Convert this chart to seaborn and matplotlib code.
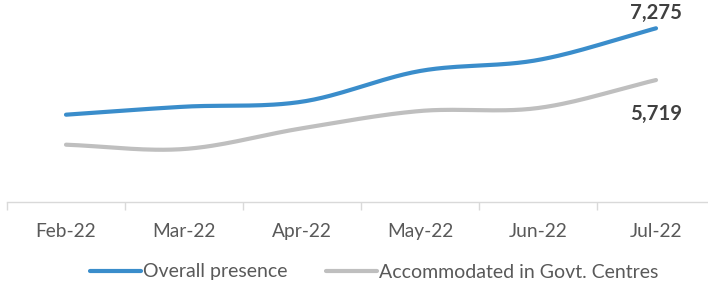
import numpy as np
import pandas as pd
import matplotlib
matplotlib.use("Agg")
import matplotlib.pyplot as plt
import seaborn as sns
from matplotlib.lines import Line2D

months = ["Feb-22", "Mar-22", "Apr-22", "May-22", "Jun-22", "Jul-22"]
overall = [4677, 4917, 5068, 5991, 6322, 7275]
accommodated = [3775, 3645, 4268, 4788, 4878, 5719]
series_names = ["Overall presence", "Accommodated in Govt. Centres"]
colors = ["#3A8DCB", "#BFBFBF"]

sns.set_theme(style="white")
plt.rcParams["font.family"] = ["Lato", "DejaVu Sans"]


def smooth(xs, ys, n=30):
    # Catmull-Rom style smoothing through the data points
    xs = np.asarray(xs, float)
    ys = np.asarray(ys, float)
    px = np.concatenate([[2 * xs[0] - xs[1]], xs, [2 * xs[-1] - xs[-2]]])
    py = np.concatenate([[2 * ys[0] - ys[1]], ys, [2 * ys[-1] - ys[-2]]])
    outx, outy = [], []
    t = np.linspace(0, 1, n)
    for i in range(1, len(px) - 2):
        for (a, out) in [(px, outx), (py, outy)]:
            a0, a1, a2, a3 = a[i - 1], a[i], a[i + 1], a[i + 2]
            c1 = a1 + (a2 - a0) / 6.0
            c2 = a2 - (a3 - a1) / 6.0
            b = ((1 - t) ** 3) * a1 + 3 * ((1 - t) ** 2) * t * c1 + 3 * (1 - t) * t ** 2 * c2 + t ** 3 * a2
            out.extend(b if i == 1 else b[1:])
    return np.array(outx), np.array(outy)


frames = []
for name, vals in zip(series_names, [overall, accommodated]):
    sx, sy = smooth(range(len(months)), vals)
    frames.append(pd.DataFrame({"x": sx, "y": sy, "series": name}))
df = pd.concat(frames, ignore_index=True)

fig = plt.figure(figsize=(7.08, 2.85), dpi=100)
ax = fig.add_axes([7 / 708, (285 - 202) / 285, 708 / 708, 192 / 285])

sns.lineplot(data=df, x="x", y="y", hue="series", hue_order=series_names,
             palette=colors, linewidth=3.0, ax=ax, sort=False, estimator=None,
             legend=False)
for line in ax.get_lines():
    line.set_solid_capstyle("round")

ax.set_xlim(-0.5, 5.5)
ax.set_ylim(2052, 7825)
ax.set_xlabel("")
ax.set_ylabel("")
ax.set_yticks([])
ax.set_xticks(range(len(months)))
ax.set_xticklabels(months, fontsize=13.8, color="#595959")
ax.set_xticks(np.arange(-0.5, 6.0, 1.0), minor=True)
ax.tick_params(axis="x", which="major", length=0, pad=15)
ax.tick_params(axis="x", which="minor", length=6, color="#D9D9D9", width=1, direction="out", bottom=True)
for s in ["top", "right", "left"]:
    ax.spines[s].set_visible(False)
ax.spines["bottom"].set_color("#D9D9D9")
ax.spines["bottom"].set_linewidth(1)

ax.annotate(f"{overall[-1]:,}", (5, overall[-1]), xytext=(0, 4), textcoords="offset points",
            ha="center", va="bottom", fontsize=14.6, fontweight="bold", color="#404040")
ax.annotate(f"{accommodated[-1]:,}", (5, accommodated[-1]), xytext=(0, -17), textcoords="offset points",
            ha="center", va="top", fontsize=14.6, fontweight="bold", color="#404040")

handles = [Line2D([0], [0], color=c, lw=3.0, solid_capstyle="round") for c in colors]
fig.legend(handles, series_names, loc="center", bbox_to_anchor=(374 / 708, 13 / 285),
           ncol=2, frameon=False, fontsize=14, handlelength=2.6, handletextpad=0.1,
           columnspacing=2.0, labelcolor="#595959")

fig.savefig("out.png", dpi=100)
